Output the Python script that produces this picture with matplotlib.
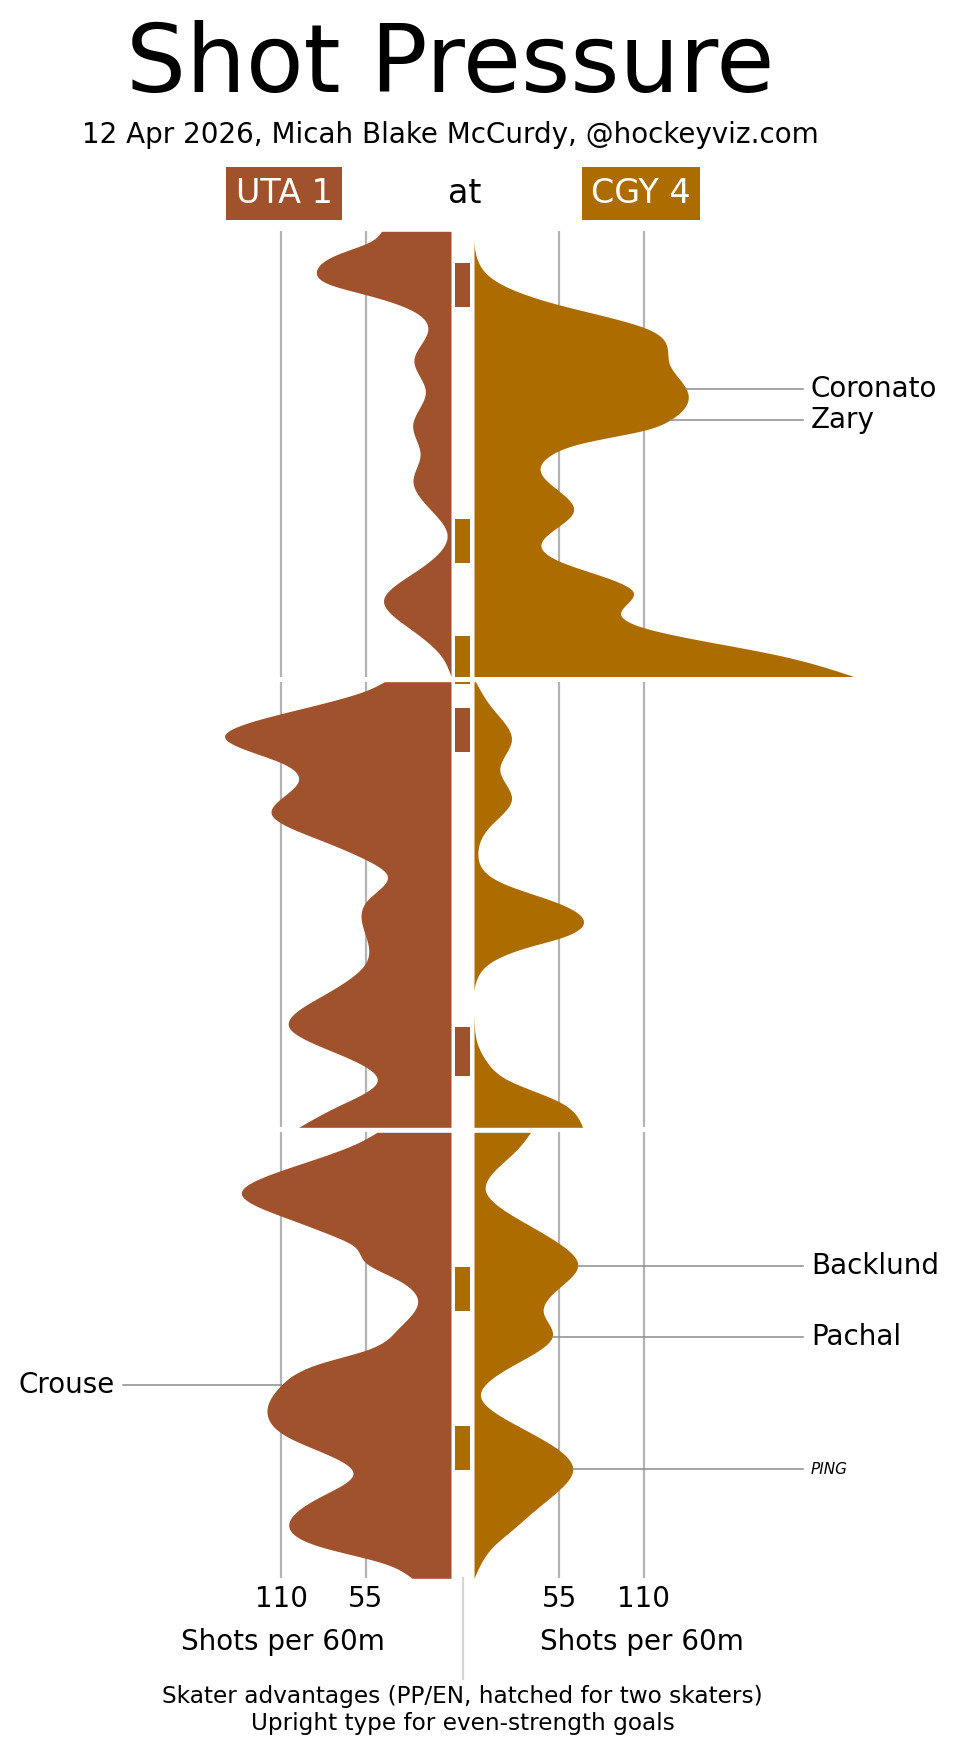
import numpy as np
import matplotlib
matplotlib.use("Agg")
import matplotlib.pyplot as plt
from matplotlib.patches import Rectangle

# team info
home_team, away_team = "CGY", "UTA"
home_score, away_score = 4, 1
uta_color = "#A0522D"
cgy_color = "#AD6C00"

# shot pressure (shots per 60m), knots: minutes into period, value
p1_uta_t = [0, 0.45, 1.05, 1.77, 2.4, 2.85, 3.45, 4.35, 5.77, 7.19, 8.69, 10.04, 11.23, 12.6, 13.6, 15.28, 16.55, 17.83, 19.03, 20]
p1_uta_v = [45, 52, 74, 87, 78, 55, 28.5, 15, 24, 16.6, 24.8, 20, 24.6, 12, 2.6, 23, 43.6, 27, 7, 0]
p1_cgy_t = [0, 1.35, 2.25, 3.3, 4.35, 5.24, 5.99, 7.04, 7.57, 8.47, 8.92, 9.5, 10.0, 10.86, 12.58, 14.09, 14.83, 16.18, 17.23, 17.83, 19.03, 20]
p1_cgy_v = [0, 2.6, 14.5, 55, 111, 125, 126.6, 137, 138.5, 127, 111, 71, 51, 43.3, 64.3, 43.3, 55.6, 102.8, 95, 111, 196, 245.7]

p2_uta_t = [0, 0.37, 1.42, 2.47, 3.67, 4.49, 5.98, 7.11, 8.0, 8.68, 9.8, 10.55, 12.64, 14.14, 15.56, 16.68, 17.95, 19.07, 20]
p2_uta_v = [43.1, 54, 109, 146.5, 109, 99, 116, 84.5, 54.8, 41.4, 54, 58.2, 55.4, 84.5, 104.4, 73.8, 47.9, 73.8, 98.6]
p2_cgy_t = [0, 1.12, 2.62, 3.96, 5.31, 6.51, 7.85, 9.05, 9.95, 10.73, 11.52, 11.89, 12.64, 13.09, 13.69, 14.88, 16.08, 17.13, 17.88, 18.85, 20]
p2_cgy_v = [1, 11, 24.2, 16.7, 24.2, 10, 2.6, 18.8, 55, 70.8, 55, 36, 10, 3.7, 0.4, 0, 1.5, 9, 22, 55, 70.3]

p3_uta_t = [0, 0.49, 1.69, 2.74, 3.78, 4.68, 5.05, 5.87, 6.6, 7.6, 8.86, 9.76, 10.36, 11.33, 12.75, 13.65, 15.29, 16.34, 17.61, 18.58, 19.33, 20]
p3_uta_v = [47.9, 60.8, 109, 135.7, 109, 75, 64, 54.8, 35, 21.6, 35, 54.8, 84.6, 109.8, 118.6, 106, 63.4, 84.6, 105, 84.6, 43.6, 25.2]
p3_cgy_t = [0, 0.79, 2.66, 3.93, 4.98, 6.0, 7.07, 8.04, 9.17, 10.36, 11.86, 13.05, 14.25, 15.11, 16.0, 17.0, 17.83, 18.58, 19.33, 20]
p3_cgy_v = [36.6, 27.5, 7.6, 29.7, 55, 67.1, 53.5, 44.8, 50.6, 27.5, 4.3, 25.3, 55, 63.9, 55.6, 38.5, 24.7, 12.3, 4.5, 0]

# skater advantages: (period, start, end, team)
adv_period = [1, 1, 1, 2, 2, 2, 3, 3]
adv_start = [1.42, 12.94, 18.2, 0.0, 1.18, 15.5, 6.04, 13.18]
adv_end = [3.42, 14.92, 20.0, 0.1, 3.14, 17.68, 8.02, 15.15]
adv_team = ["UTA", "CGY", "CGY", "CGY", "UTA", "UTA", "CGY", "CGY"]

# goals
goal_period = [1, 1, 3, 3, 3, 3]
goal_time = [7.1, 8.47, 6.0, 9.17, 15.11, 11.33]
goal_team = ["CGY", "CGY", "CGY", "CGY", "CGY", "UTA"]
goal_name = ["Coronato", "Zary", "Backlund", "Pachal", "PING", "Crouse"]
goal_even = [True, True, True, True, False, True]

grid_vals = [55, 110]


def smooth(x, y, xn):
    # natural cubic spline through the knots
    x = np.asarray(x, float)
    y = np.asarray(y, float)
    n = len(x)
    h = np.diff(x)
    A = np.zeros((n, n))
    r = np.zeros(n)
    A[0, 0] = A[-1, -1] = 1
    for i in range(1, n - 1):
        A[i, i - 1] = h[i - 1]
        A[i, i] = 2 * (h[i - 1] + h[i])
        A[i, i + 1] = h[i]
        r[i] = 6 * ((y[i + 1] - y[i]) / h[i] - (y[i] - y[i - 1]) / h[i - 1])
    M = np.linalg.solve(A, r)
    i = np.clip(np.searchsorted(x, xn) - 1, 0, n - 2)
    hh = h[i]
    a = x[i + 1] - xn
    b = xn - x[i]
    return (M[i] * a**3 / (6 * hh) + M[i + 1] * b**3 / (6 * hh)
            + (y[i] / hh - M[i] * hh / 6) * a + (y[i + 1] / hh - M[i + 1] * hh / 6) * b)


W, H, DPI = 957, 1755, 100
PX = 85 / 55.0            # pixels per shot/60
CX = 462.5                # centre of the chart in pixels
GAP = 11.5 / PX           # half gap between the two baselines
fig = plt.figure(figsize=(W / DPI, H / DPI), dpi=DPI)
plt.rcParams["font.family"] = ["DejaVu Sans"]

colors = {"UTA": uta_color, "CGY": cgy_color}
periods = {
    1: (p1_uta_t, p1_uta_v, p1_cgy_t, p1_cgy_v, 231.3, 676.5),
    2: (p2_uta_t, p2_uta_v, p2_cgy_t, p2_cgy_v, 681.7, 1127.3),
    3: (p3_uta_t, p3_uta_v, p3_cgy_t, p3_cgy_v, 1132.3, 1578.3),
}

axes = {}
for p, (ut, uv, ct, cv, top, bot) in periods.items():
    ax = fig.add_axes([0, 1 - bot / H, 1, (bot - top) / H])
    ax.set_xlim(-CX / PX, (W - CX) / PX)
    ax.set_ylim(20, 0)
    for s in ax.spines.values():
        s.set_visible(False)
    ax.set_yticks([])
    ax.set_xticks([])
    for g in grid_vals:
        ax.axvline(-GAP - g, color="#b3b3b3", lw=1.6, zorder=1)
        ax.axvline(GAP + g, color="#b3b3b3", lw=1.6, zorder=1)
    tt = np.linspace(0, 20, 800)
    uu = np.clip(smooth(ut, uv, tt), 0, None)
    cc = np.clip(smooth(ct, cv, tt), 0, None)
    ax.fill_betweenx(tt, -GAP - uu, -GAP, color=uta_color, lw=0, zorder=2)
    ax.fill_betweenx(tt, GAP, GAP + cc, color=cgy_color, lw=0, zorder=2)
    axes[p] = (ax, ut, uv, ct, cv)

# skater advantages in the centre strip
for p, a, b, team in zip(adv_period, adv_start, adv_end, adv_team):
    ax = axes[p][0]
    ax.bar(0, b - a, bottom=a, width=15 / PX, color=colors[team], lw=0, zorder=3)

# goal labels
for p, t, team, name, even in zip(goal_period, goal_time, goal_team, goal_name, goal_even):
    ax, ut, uv, ct, cv = axes[p]
    style = "normal" if even else "italic"
    size = 20 if even else 11
    if team == "CGY":
        edge_x = GAP + float(smooth(ct, cv, np.array([t]))[0])
        ax.plot([edge_x, (803 - CX) / PX], [t, t], color="#8c8c8c", lw=1.1, zorder=4, clip_on=False)
        ax.text((811 - CX) / PX, t, name, ha="left", va="center", fontsize=size,
                fontstyle=style, zorder=5)
    else:
        edge_x = -GAP - float(smooth(ut, uv, np.array([t]))[0])
        ax.plot([(123 - CX) / PX, edge_x], [t, t], color="#8c8c8c", lw=1.1, zorder=4, clip_on=False)
        ax.text((115 - CX) / PX, t, name, ha="right", va="center", fontsize=size,
                fontstyle=style, zorder=5)

# bottom axis labels
ax3 = axes[3][0]
ticks = [-GAP - 110, -GAP - 55, GAP + 55, GAP + 110]
ax3.set_xticks(ticks)
ax3.set_xticklabels(["110", "55", "55", "110"])
ax3.tick_params(axis="x", length=0, pad=4.8, labelsize=20)
trans = ax3.get_xaxis_transform()
ax3.text(-116, -0.1608, "Shots per 60m", ha="center", va="baseline", fontsize=20, transform=trans)
ax3.text(116, -0.1608, "Shots per 60m", ha="center", va="baseline", fontsize=20, transform=trans)
ax3.plot([0, 0], [0, -0.2258], color="#d6d6d6", lw=1.6, transform=trans, clip_on=False)

# title block
fig.text(450.5 / W, 1 - 91.7 / H, "Shot Pressure", ha="center", va="baseline", fontsize=68)
fig.text(450.5 / W, 1 - 143.3 / H, "12 Apr 2026, Micah Blake McCurdy, @hockeyviz.com",
         ha="center", va="baseline", fontsize=20)
fig.patches.append(Rectangle((226 / W, 1 - 220 / H), 116 / W, 53.3 / H,
                             transform=fig.transFigure, color=uta_color, lw=0))
fig.patches.append(Rectangle((582 / W, 1 - 220 / H), 118 / W, 53.3 / H,
                             transform=fig.transFigure, color=cgy_color, lw=0))
fig.text(284 / W, 1 - 193.3 / H, f"{away_team} {away_score}", ha="center", va="center",
         fontsize=24, color="white")
fig.text(641 / W, 1 - 193.3 / H, f"{home_team} {home_score}", ha="center", va="center",
         fontsize=24, color="white")
fig.text(464.5 / W, 1 - 203.3 / H, "at", ha="center", va="baseline", fontsize=24)

# footer
fig.text(CX / W, 1 - 1703.3 / H, "Skater advantages (PP/EN, hatched for two skaters)",
         ha="center", va="baseline", fontsize=16.7)
fig.text(CX / W, 1 - 1730 / H, "Upright type for even-strength goals",
         ha="center", va="baseline", fontsize=16.7)

fig.savefig("out.png", dpi=DPI)
